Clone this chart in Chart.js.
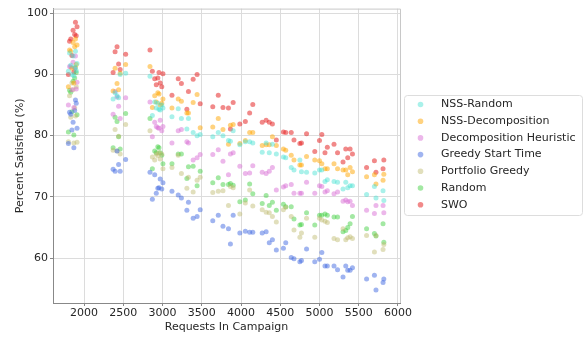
<!DOCTYPE html>
<html>
<head>
<meta charset="utf-8">
<script src="https://cdn.jsdelivr.net/npm/chart.js@4"></script>
<style>
  html, body { margin: 0; padding: 0; background: #fff; }
  #chart { display: block; }
</style>
</head>
<body>
<canvas id="chart" width="585" height="337"></canvas>
<script>
// campaign sizes (x), shared by every algorithm
const campaigns = [
  1800, 1815, 1830, 1845, 1860, 1870, 1880, 1890, 1900, 1910,
  2370, 2395, 2420, 2440, 2460, 2530,
  2840, 2870, 2900, 2920, 2940, 2955, 2970, 2990, 3005,
  3120, 3200, 3240, 3310, 3330, 3390, 3440, 3480,
  3640, 3710, 3770, 3840, 3865, 3900,
  3985, 4055, 4110, 4150, 4270, 4320, 4360, 4400, 4450,
  4540, 4570, 4640, 4675, 4750, 4770, 4835, 4940, 5000, 5030,
  5070, 5100, 5185, 5230, 5300, 5335, 5360, 5390, 5420,
  5600, 5700, 5720, 5810, 5820
];

const nssRandom = [
  90.5, 93.5, 91.5, 90.0, 93.0, 89.8, 91.2, 93.8, 90.6, 91.8,
  86.0, 87.0, 86.5, 86.2, 90.0, 90.2,
  89.7, 83.3, 85.5, 84.5, 85.3, 84.3, 84.2, 85.0, 84.5,
  83.1, 84.4, 82.8, 81.1, 82.8, 80.5, 80.0, 80.2,
  79.8, 80.5, 80.0, 79.2, 79.1, 80.8,
  78.5, 79.0, 79.0, 78.8, 77.3, 78.8, 77.2, 78.6, 77.0,
  76.5, 76.4, 74.8, 74.4, 76.0, 74.1, 74.0, 73.9, 74.4, 74.4,
  72.5, 72.8, 72.5, 72.4, 71.3, 72.4, 71.5, 71.8, 71.8,
  70.4, 71.7, 69.8, 71.0, 69.4
];

const nssDecomposition = [
  88.0, 94.0, 93.8, 91.0, 95.2, 88.6, 94.5, 95.8, 91.6, 94.8,
  87.3, 91.0, 88.5, 87.5, 90.2, 91.6,
  91.3, 84.6, 86.5, 85.5, 87.0, 86.8, 85.0, 85.3, 86.0,
  84.5, 86.0, 85.6, 83.7, 83.7, 85.4, 86.7, 81.3,
  81.4, 82.8, 81.0, 78.6, 81.7, 81.8,
  78.7, 79.2, 80.5, 80.5, 78.4, 78.5, 78.5, 79.8, 78.4,
  77.8, 77.6, 76.8, 76.0, 75.2, 75.2, 76.6, 76.0, 75.9, 75.4,
  74.6, 74.6, 75.4, 74.6, 74.4, 74.4, 73.6, 74.8, 74.1,
  73.3, 73.6, 72.1, 72.7, 73.7
];

const decompHeuristic = [
  85.0, 91.3, 91.2, 87.5, 92.0, 84.6, 91.0, 93.0, 87.6, 88.7,
  83.5, 87.2, 86.3, 84.8, 82.8, 86.2,
  85.5, 79.8, 82.2, 81.5, 81.3, 81.2, 82.5, 80.8, 81.5,
  78.8, 80.8, 81.0, 79.0, 78.8, 76.0, 76.4, 76.9,
  76.9, 77.7, 75.8, 73.6, 77.0, 77.2,
  75.0, 73.8, 73.9, 75.1, 74.0, 73.8, 74.2, 74.8, 71.1,
  71.6, 71.8, 72.0, 70.6, 70.6, 70.6, 72.4, 70.6, 71.8, 71.7,
  70.8, 71.0, 70.5, 70.8, 69.3, 69.5, 69.2, 69.3, 68.6,
  67.8, 67.3, 68.6, 68.6, 67.4
];

const greedyStart = [
  78.7, 83.8, 83.5, 80.9, 82.2, 78.0, 84.1, 85.8, 85.3, 81.2,
  74.5, 74.2, 77.5, 75.3, 74.2, 76.1,
  74.0, 69.6, 73.6, 70.6, 71.4, 71.5, 72.9, 71.3, 72.3,
  70.9, 70.3, 69.8, 67.8, 69.1, 66.5, 66.8, 67.9,
  66.1, 67.0, 65.2, 64.8, 62.3, 67.0,
  64.1, 64.4, 64.2, 64.2, 64.1, 64.3, 62.5, 63.0, 61.3,
  61.6, 62.5, 60.1, 59.9, 59.4, 59.6, 61.5, 59.4, 59.8, 60.9,
  58.7, 58.7, 58.7, 58.1, 56.9, 58.7, 58.0, 58.0, 58.4,
  56.6, 57.2, 54.8, 56.0, 56.6
];

const portfolioGreedy = [
  79.0, 86.5, 83.0, 88.6, 87.5, 78.8, 84.5, 83.2, 88.0, 78.9,
  77.6, 81.0, 77.5, 79.9, 77.0, 81.8,
  80.8, 76.5, 76.0, 77.0, 76.7, 77.2, 76.2, 77.0, 74.6,
  74.8, 76.8, 73.8, 71.4, 73.2, 70.8, 72.7, 73.2,
  70.7, 70.9, 71.0, 68.6, 71.7, 71.5,
  67.2, 69.0, 71.1, 68.5, 67.9, 67.5, 67.4, 66.8, 65.9,
  67.9, 68.3, 66.8, 64.6, 63.4, 64.1, 66.5, 63.4, 66.5, 66.2,
  66.0, 65.8, 63.2, 63.0, 64.8, 63.0, 63.3, 63.5, 63.2,
  63.7, 61.0, 63.7, 61.4, 62.2
];

const randomAlg = [
  80.6, 87.4, 87.1, 83.9, 88.9, 80.1, 89.4, 91.1, 90.3, 83.4,
  78.0, 83.0, 82.3, 79.8, 77.8, 83.6,
  82.8, 74.6, 77.5, 77.2, 78.2, 78.0, 77.2, 76.8, 75.4,
  75.4, 77.0, 77.0, 73.0, 74.9, 75.0, 71.8, 74.2,
  72.3, 73.1, 72.0, 72.0, 72.2, 71.9,
  69.2, 69.5, 72.1, 70.5, 68.9, 70.2, 68.6, 69.1, 67.8,
  68.8, 68.4, 68.4, 66.4, 65.4, 65.5, 67.4, 65.4, 67.0, 67.0,
  67.2, 67.0, 66.7, 66.7, 64.3, 64.5, 65.0, 65.6, 66.8,
  64.8, 64.0, 63.6, 65.6, 62.6
];

const swo = [
  90.0, 95.4, 95.8, 93.1, 97.2, 90.4, 96.5, 98.5, 96.3, 97.8,
  90.3, 93.7, 94.5, 91.7, 90.8, 93.3,
  94.0, 90.5, 89.3, 88.3, 89.4, 90.3, 88.6, 88.0, 90.1,
  86.6, 89.3, 88.5, 84.3, 87.2, 89.2, 90.0, 85.2,
  84.7, 86.6, 84.6, 84.5, 81.1, 85.4,
  81.9, 82.3, 83.7, 85.1, 82.2, 82.5, 82.2, 81.9, 79.3,
  80.6, 80.5, 80.5, 79.3, 78.7, 78.8, 80.3, 77.4, 79.2, 80.2,
  77.2, 78.1, 78.6, 77.2, 75.7, 77.8, 76.4, 77.8, 77.0,
  74.8, 75.9, 74.0, 74.6, 76.0
];

const seriesNames = ["NSS-Random", "NSS-Decomposition", "Decomposition Heuristic",
  "Greedy Start Time", "Portfolio Greedy", "Random", "SWO"];
const seriesValues = [nssRandom, nssDecomposition, decompHeuristic,
  greedyStart, portfolioGreedy, randomAlg, swo];
const seriesColors = [
  "rgba(64, 224, 208, 0.45)",
  "rgba(255, 165, 0, 0.5)",
  "rgba(218, 112, 214, 0.5)",
  "rgba(65, 105, 225, 0.5)",
  "rgba(189, 183, 107, 0.45)",
  "rgba(50, 205, 50, 0.45)",
  "rgba(230, 40, 40, 0.55)"
];

const xTicks = [2000, 2500, 3000, 3500, 4000, 4500, 5000, 5500, 6000];
const yTicks = [60, 70, 80, 90, 100];

const FONT = "'DejaVu Sans', sans-serif";
const TEXT = "#262626";

// frame + legend box drawn like the matplotlib figure
const framePlugin = {
    id: "frame",
    afterDraw(chart) {
        const ctx = chart.ctx;
        const a = chart.chartArea;
        ctx.save();
        ctx.strokeStyle = "#c8c8c8";
        ctx.lineWidth = 1;
        ctx.beginPath();
        ctx.moveTo(a.left, a.top + 0.5);
        ctx.lineTo(a.right + 0.5, a.top + 0.5);
        ctx.lineTo(a.right + 0.5, a.bottom);
        ctx.stroke();

        // legend
        const lx = 404.5, ly = 95.5, lw = 178, lh = 120;
        ctx.fillStyle = "#fff";
        ctx.strokeStyle = "#dddddd";
        ctx.beginPath();
        ctx.roundRect(lx, ly, lw, lh, 3);
        ctx.fill();
        ctx.stroke();
        ctx.font = "11px " + FONT;
        ctx.textBaseline = "middle";
        seriesNames.forEach((name, i) => {
            const y = 104.5 + i * 16.7;
            ctx.fillStyle = seriesColors[i];
            ctx.beginPath();
            ctx.arc(420.5, y, 2.8, 0, Math.PI * 2);
            ctx.fill();
            ctx.fillStyle = TEXT;
            ctx.fillText(name, 441, y);
        });
        ctx.restore();
    }
};

document.addEventListener("DOMContentLoaded", () => {
    const datasets = seriesNames.map((name, i) => ({
        label: name,
        data: campaigns.map((x, j) => ({ x: x, y: seriesValues[i][j] })),
        backgroundColor: seriesColors[i],
        borderWidth: 0,
        pointRadius: 2.5,
        pointHoverRadius: 2.5
    }));

    new Chart(document.getElementById("chart"), {
        type: "scatter",
        data: { datasets: datasets },
        options: {
            responsive: false,
            animation: false,
            devicePixelRatio: 1,
            layout: { padding: { left: 10, top: 7, right: 185, bottom: 0 } },
            plugins: {
                legend: { display: false },
                tooltip: { enabled: false }
            },
            scales: {
                x: {
                    type: "linear",
                    min: 1604,
                    max: 6026,
                    afterBuildTicks: (s) => { s.ticks = xTicks.map(v => ({ value: v })); },
                    afterFit: (s) => { s.height = 34; },
                    grid: { color: "#dcdcdc", tickLength: 3, tickColor: "#888" },
                    border: { color: "#888" },
                    ticks: { color: TEXT, font: { family: FONT, size: 11 }, padding: 1, maxRotation: 0,
                             callback: (v) => String(v) },
                    title: { display: true, text: "Requests In Campaign", color: TEXT,
                             font: { family: FONT, size: 11 }, padding: { top: 0, bottom: 3 } }
                },
                y: {
                    type: "linear",
                    min: 52.66,
                    max: 100.75,
                    afterBuildTicks: (s) => { s.ticks = yTicks.map(v => ({ value: v })); },
                    afterFit: (s) => { s.width = 43; },
                    grid: { color: "#dcdcdc", tickLength: 3, tickColor: "#888" },
                    border: { color: "#888" },
                    ticks: { color: TEXT, font: { family: FONT, size: 11 }, padding: 2,
                             callback: (v) => String(v) },
                    title: { display: true, text: "Percent Satisfied (%)", color: TEXT,
                             font: { family: FONT, size: 11 }, padding: { top: 4, bottom: 0 } }
                }
            }
        },
        plugins: [framePlugin]
    });
});
</script>
</body>
</html>
